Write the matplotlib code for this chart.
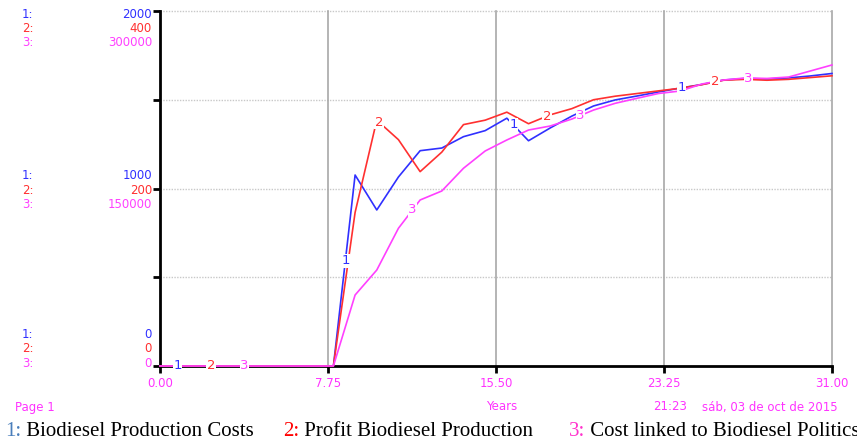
import matplotlib
matplotlib.use('Agg')
import matplotlib.pyplot as plt
import numpy as np

# yearly model output, 0..31
years = np.arange(0, 32)
prod_costs = [0, 0, 0, 0, 0, 0, 0, 0, 0,
              1076, 879, 1065, 1213, 1228, 1292, 1326, 1396, 1269, 1341, 1408, 1465,
              1499, 1521, 1544, 1566, 1586, 1611, 1620, 1617, 1623, 1634, 1648]
profit = [0, 0, 0, 0, 0, 0, 0, 0, 0,
          173, 277, 255, 219, 241, 272, 277, 286, 273, 283, 290, 300,
          304, 307, 310, 313, 317, 322, 323, 322, 323, 325, 327]
politics_cost = [0, 0, 0, 0, 0, 0, 0, 0, 0,
                 60000, 81100, 116400, 140300, 147900, 167100, 181700, 191000, 199400,
                 202800, 208700, 216300, 222000, 226200, 230300, 232400, 238300,
                 241700, 243400, 243000, 244200, 249300, 254400]

series_names = ['Biodiesel Production Costs', 'Profit Biodiesel Production',
                'Cost linked to Biodiesel Politics']
scale_top = ['2000', '400', '300000']
scale_mid = ['1000', '200', '150000']
scale_low = ['0', '0', '0']
x_ticks = [0, 7.75, 15.5, 23.25, 31]
x_ticklabels = ['0.00', '7.75', '15.50', '23.25', '31.00']

blue = '#3030ff'
red = '#ff3030'
magenta = '#ff40ff'
colors = [blue, red, magenta]
pink = '#ff33ff'

W, H = 857, 442
fig = plt.figure(figsize=(W / 100, H / 100), dpi=100)

def fx(px):
    return px / W

def fy(py):
    return 1 - py / H

ax = fig.add_axes([fx(160), fy(366), fx(832 - 160), (366 - 11) / H])
ax2 = ax.twinx()
ax3 = ax.twinx()

ax.set_xlim(0, 31)
ax.set_ylim(0, 2000)
ax2.set_ylim(0, 400)
ax3.set_ylim(0, 300000)
for a in (ax2, ax3):
    a.set_xlim(0, 31)
    a.set_axis_off()

# grid
for v in [500, 1000, 1500, 2000]:
    ax.axhline(v, color='#c8c8c8', lw=1, ls=(0, (1, 1)), zorder=0, clip_on=False)
for t in x_ticks[1:]:
    ax.axvline(t, color='#a8a8a8', lw=1.2, zorder=0, clip_on=False)

for s in ['top', 'right']:
    ax.spines[s].set_visible(False)
for s in ['left', 'bottom']:
    ax.spines[s].set_linewidth(2)

ax.set_xticks(x_ticks)
ax.set_xticklabels(x_ticklabels, color=pink, fontsize=8.5)
ax.set_yticks([0, 500, 1000, 1500, 2000])
ax.set_yticklabels([])
ax.tick_params(axis='both', direction='out', width=2, length=5, pad=3)

axes = [ax, ax2, ax3]
data = [prod_costs, profit, politics_cost]
for a, d, c in zip(axes, data, colors):
    a.plot(years, d, color=c, lw=1.2, zorder=3, clip_on=False)

# numbered markers along each curve
for i, (a, d, c) in enumerate(zip(axes, data, colors)):
    for k in range(4):
        t = 0.8 + k * 7.75 + i * 1.55
        y = np.interp(t, years, d)
        ax3.text(t, y, str(i + 1), transform=a.transData, color=c, fontsize=9.5,
                 ha='center', va='center', zorder=5,
                 bbox=dict(facecolor='white', edgecolor='none', pad=0.3))

# scale labels on the left
rows = [(scale_top, [14, 28.5, 43]), (scale_mid, [175.5, 190, 204.5]),
        (scale_low, [334.5, 349, 363.5])]
for labels, ys in rows:
    for i, (lab, py) in enumerate(zip(labels, ys)):
        fig.text(fx(22), fy(py), f'{i + 1}:', color=colors[i], fontsize=8.5,
                 ha='left', va='center')
        fig.text(fx(152), fy(py), lab, color=colors[i], fontsize=8.5,
                 ha='right', va='center')

fig.text(fx(15), fy(407), 'Page 1', color=pink, fontsize=8.5, va='center')
fig.text(fx(502), fy(407), 'Years', color=pink, fontsize=8.5, ha='center', va='center')
fig.text(fx(653), fy(407), '21:23', color=pink, fontsize=8.5, va='center')
fig.text(fx(702), fy(407), 'sáb, 03 de oct de 2015', color=pink, fontsize=8.5, va='center')

# caption line below the chart
num_colors = ['#4a7ebb', '#ff0000', '#ff33cc']
starts = [5, 283, 569]
for i in range(3):
    t1 = fig.text(fx(starts[i]), fy(431), f'{i + 1}:', color=num_colors[i],
                  fontsize=15, family='Liberation Serif', va='center')
    ax.annotate(' ' + series_names[i], xy=(1, 0), xycoords=t1, va='bottom',
                ha='left', fontsize=15, family='Liberation Serif', color='black',
                annotation_clip=False)

fig.savefig('out.png', dpi=100)
